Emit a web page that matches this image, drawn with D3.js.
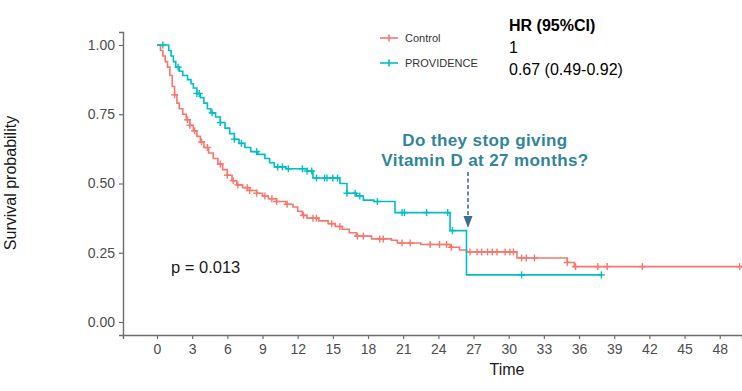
<!DOCTYPE html>
<html><head><meta charset="utf-8">
<script src="https://cdn.jsdelivr.net/npm/d3@7"></script>
<style>
html,body{margin:0;padding:0;background:#fff;}
svg{display:block;font-family:"Liberation Sans",Arial,sans-serif;}
</style></head>
<body>
<svg id="chart" width="742" height="391"></svg>
<script>
// ---- data ----
const xTicks = [0,3,6,9,12,15,18,21,24,27,30,33,36,39,42,45,48];
const yTicks = [0,0.25,0.5,0.75,1];
const groups = ["Control","PROVIDENCE"];
const colors = ["#F8766D","#00BFC4"];

const controlTimes = [0.3,0.5,0.7,0.9,1.1,1.3,1.5,1.7,1.9,2.2,2.5,2.8,3.1,3.4,3.7,4.0,4.4,4.8,5.2,5.6,6.0,6.4,6.8,7.3,7.9,8.5,9.0,9.5,10.2,11.0,11.6,12.0,12.4,12.8,13.8,14.6,15.2,15.8,16.4,17.0,18.3,20.0,20.5,22.5,25.0,25.8,26.4,30.7,35.0,35.6];
const controlSurv  = [0.98,0.96,0.94,0.92,0.89,0.85,0.82,0.79,0.77,0.75,0.73,0.71,0.69,0.67,0.65,0.63,0.61,0.59,0.57,0.55,0.53,0.51,0.495,0.485,0.475,0.465,0.455,0.445,0.435,0.425,0.415,0.40,0.385,0.375,0.365,0.355,0.345,0.335,0.322,0.31,0.30,0.295,0.285,0.28,0.27,0.26,0.253,0.231,0.215,0.200];
const controlCensor = [1.5,2.6,2.8,3.2,3.8,4.3,5.4,6.0,6.5,6.9,7.7,7.9,8.5,9.2,9.8,10.2,11.1,12.5,13.3,13.6,14.9,15.6,17.1,17.6,19.0,19.3,20.9,21.6,23.3,24.1,24.7,25.1,26.7,27.3,27.7,28.2,28.6,29.0,29.7,30.1,30.4,31.1,31.5,32.2,35.0,35.7,37.6,38.4,41.4,49.7];
const controlEnd = 51;

const provTimes = [1.0,1.2,1.4,1.6,1.9,2.2,2.6,2.9,3.1,3.4,3.7,4.0,4.3,4.6,5.0,5.4,5.8,6.2,6.6,7.0,7.5,8.0,8.6,9.2,9.6,10.0,11.0,12.8,13.3,15.6,16.2,17.0,17.6,18.5,20.3,25.0,26.4];
const provSurv  = [0.98,0.96,0.94,0.92,0.905,0.89,0.875,0.86,0.845,0.825,0.81,0.79,0.77,0.755,0.74,0.72,0.70,0.68,0.66,0.645,0.63,0.615,0.605,0.59,0.575,0.56,0.553,0.545,0.52,0.50,0.465,0.455,0.44,0.435,0.395,0.33,0.17];
const provCensor = [0.5,1.8,3.4,3.6,4.7,5.4,6.6,7.2,8.5,10.3,10.7,11.2,12.4,12.8,13.2,13.6,14.3,14.5,15.0,15.4,16.2,16.9,17.3,18.8,20.9,21.1,23.0,24.8,25.2,31.1,37.9];
const provEnd = 38.0;

// ---- layout ----
const svg = d3.select("#chart");
const x = d3.scaleLinear().domain([-2.9, 49.9]).range([123, 742]);
const y = d3.scaleLinear().domain([-0.0469, 1.0469]).range([335, 32]);

svg.append("defs").append("clipPath").attr("id","clip")
  .append("rect").attr("x",123).attr("y",20).attr("width",619).attr("height",316);

// axes
const axisColor = "#6e6e6e";
const gx = svg.append("g").attr("transform","translate(0,335)")
  .call(d3.axisBottom(x).tickValues(xTicks).tickSizeOuter(0).tickSize(4).tickPadding(5));
const gy = svg.append("g").attr("transform","translate(123,0)")
  .call(d3.axisLeft(y).tickValues(yTicks).tickFormat(d3.format(".2f")).tickSizeOuter(0).tickSize(4).tickPadding(4));
[gx,gy].forEach(g=>{
  g.select(".domain").attr("stroke",axisColor).attr("stroke-width",1.4);
  g.selectAll(".tick line").attr("stroke",axisColor).attr("stroke-width",1.2);
  g.selectAll(".tick text").attr("fill","#4d4d4d").style("font-size","14px").style("font-family","Liberation Sans, Arial, sans-serif");
});

// step function helper
function survAt(times, surv, t){
  let s = 1;
  for(let i=0;i<times.length;i++){ if(times[i] <= t) s = surv[i]; else break; }
  return s;
}

const series = [
  {times:controlTimes, surv:controlSurv, censor:controlCensor, end:controlEnd, color:colors[0]},
  {times:provTimes, surv:provSurv, censor:provCensor, end:provEnd, color:colors[1]}
];

const line = d3.line().x(d=>x(d[0])).y(d=>y(d[1])).curve(d3.curveStepAfter);
const plot = svg.append("g").attr("clip-path","url(#clip)");
const arm = 3.5;
series.forEach(s=>{
  const pts = [[0,1]].concat(s.times.map((t,i)=>[t,s.surv[i]]));
  pts.push([s.end, s.surv[s.surv.length-1]]);
  plot.append("path").attr("d",line(pts)).attr("fill","none")
    .attr("stroke",s.color).attr("stroke-width",1.6);
  const g = plot.append("g").attr("stroke",s.color).attr("stroke-width",1.4);
  s.censor.forEach(t=>{
    const cx = x(t), cy = y(survAt(s.times,s.surv,t));
    g.append("line").attr("x1",cx).attr("x2",cx).attr("y1",cy-arm).attr("y2",cy+arm);
    g.append("line").attr("x1",cx-arm).attr("x2",cx+arm).attr("y1",cy).attr("y2",cy);
  });
});

// legend
groups.forEach((name,i)=>{
  const ly = 38 + i*25;
  const g = svg.append("g").attr("stroke",colors[i]).attr("stroke-width",1.6);
  g.append("line").attr("x1",380).attr("x2",398).attr("y1",ly).attr("y2",ly);
  g.append("line").attr("x1",389).attr("x2",389).attr("y1",ly-3.5).attr("y2",ly+3.5);
  svg.append("text").attr("x",405).attr("y",ly+4).text(name)
    .attr("fill","#333").style("font-size","11px");
});

// HR table
svg.append("text").attr("x",509).attr("y",31).text("HR (95%CI)")
  .attr("fill","#000").style("font-size","16px").style("font-weight","bold");
svg.append("text").attr("x",509).attr("y",53).text("1")
  .attr("fill","#000").style("font-size","16px");
svg.append("text").attr("x",509).attr("y",75).text("0.67 (0.49-0.92)")
  .attr("fill","#000").style("font-size","16px");

// annotation
const ann = svg.append("text").attr("text-anchor","middle").attr("fill","#31849B")
  .style("font-size","17px").style("font-weight","bold").style("letter-spacing","0.4px");
ann.append("tspan").attr("x",485).attr("y",146).text("Do they stop giving");
ann.append("tspan").attr("x",485).attr("y",166).text("Vitamin D at 27 months?");

const ax = 468;
svg.append("line").attr("x1",ax).attr("x2",ax).attr("y1",172).attr("y2",217)
  .attr("stroke","#3d6f8c").attr("stroke-width",1.6).attr("stroke-dasharray","4,2.5");
svg.append("path").attr("d",`M${ax-4.5},216 L${ax+4.5},216 L${ax},228 Z`).attr("fill","#3d6f8c");

// p-value
svg.append("text").attr("x",171).attr("y",273).text("p = 0.013")
  .attr("fill","#1a1a1a").style("font-size","16.5px");

// axis titles
svg.append("text").attr("x",507).attr("y",375).attr("text-anchor","middle").text("Time")
  .attr("fill","#1a1a1a").style("font-size","16px");
svg.append("text").attr("transform","translate(16,183) rotate(-90)").attr("text-anchor","middle")
  .text("Survival probability").attr("fill","#1a1a1a").style("font-size","16px");
</script>
</body></html>
